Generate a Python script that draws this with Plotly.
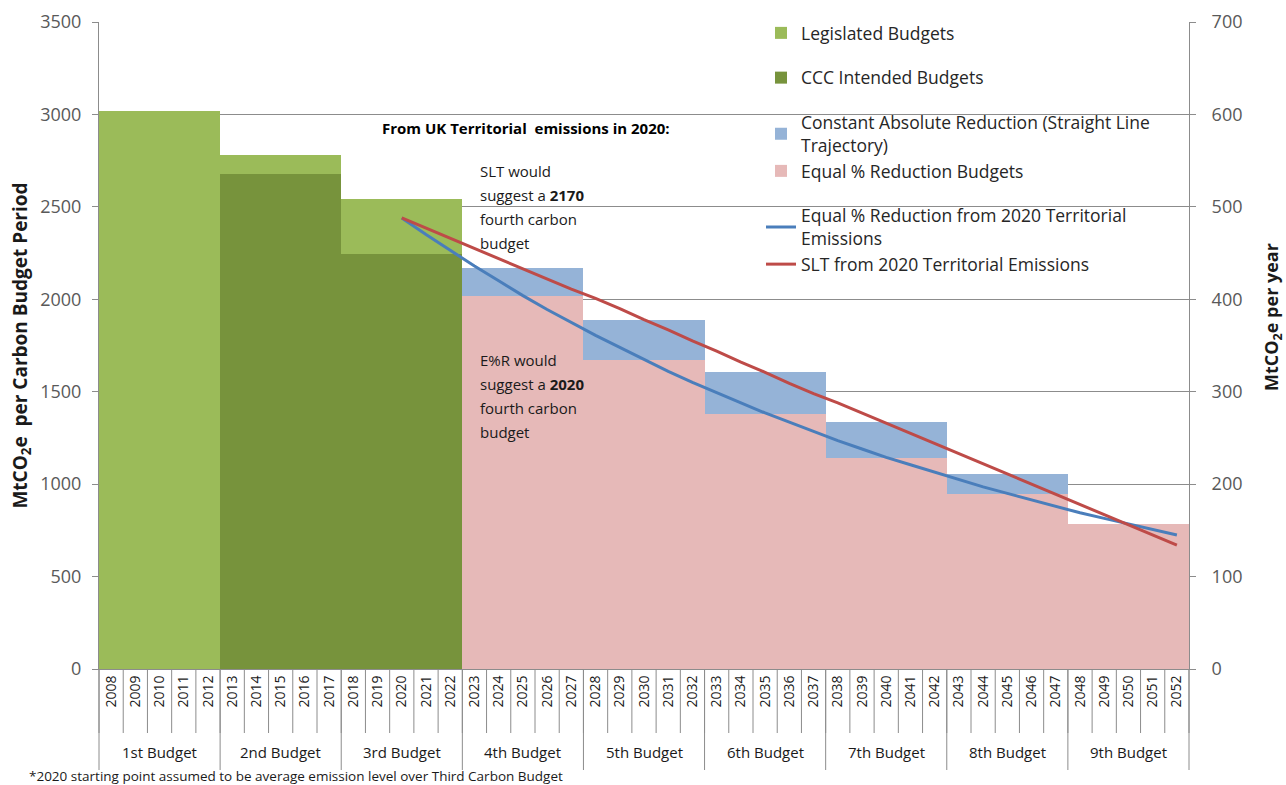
import plotly.graph_objects as go

# ---------------- data ----------------
year_labels = ["2008", "2009", "2010", "2011", "2012", "2013", "2014", "2015", "2016", "2017",
               "2018", "2019", "2020", "2021", "2022", "2023", "2024", "2025", "2026", "2027",
               "2028", "2029", "2030", "2031", "2032", "2033", "2034", "2035", "2036", "2037",
               "2038", "2039", "2040", "2041", "2042", "2043", "2044", "2045", "2046", "2047",
               "2048", "2049", "2050", "2051", "2052"]
budget_labels = ["1st Budget", "2nd Budget", "3rd Budget", "4th Budget", "5th Budget",
                 "6th Budget", "7th Budget", "8th Budget", "9th Budget"]

# budget values (MtCO2e per 5-year carbon budget period), left axis
legislated_budgets = [3018, 2782, 2544]                 # budgets 1-3
ccc_intended_budgets = [2678, 2245]                     # budgets 2-3
constant_abs_budgets = [2170, 1888, 1608, 1336, 1055]   # budgets 4-8
equal_pct_budgets = [2020, 1672, 1382, 1143, 948, 782]  # budgets 4-9

# annual trajectories (MtCO2e per year), right axis, years 2020-2052
line_years = year_labels[12:]
equal_pct_line = [488, 470, 453, 436, 420, 404, 389, 375, 361, 348, 335, 322, 310, 299, 288, 277,
                  267, 257, 247, 238, 229, 221, 213, 205, 197, 190, 183, 176, 169, 163, 157, 151, 145]
slt_line = [488, 477, 466, 455, 444, 433, 422, 411, 401, 390, 378, 367, 355, 344, 332, 321,
            309, 298, 288, 277, 266, 255, 244, 233, 222, 211, 200, 189, 178, 167, 156, 145, 134]


# ---------------- helpers ----------------
def expand(values, first_budget):
    xs, ys = [], []
    for k, v in enumerate(values):
        b = first_budget + k
        for j in range(5):
            xs.append(year_labels[b * 5 + j])
            ys.append(v)
    return xs, ys


GREEN_L = "#9BBB59"
GREEN_D = "#77933C"
BLUE_B = "#95B3D7"
PINK = "#E6B9B8"
BLUE_L = "#4A7EBB"
RED_L = "#BE4B48"
GRID = "#8C8C8C"
FONT = "Open Sans"
TXT = "#1a1a1a"

fig = go.Figure()

x, y = expand(legislated_budgets, 0)
fig.add_trace(go.Bar(x=x, y=y, name="Legislated Budgets", marker=dict(color=GREEN_L, line_width=0),
                     legendgroup="g1"))
x, y = expand(ccc_intended_budgets, 1)
fig.add_trace(go.Bar(x=x, y=y, name="CCC Intended Budgets", marker=dict(color=GREEN_D, line_width=0),
                     legendgroup="g2"))
x, y = expand(constant_abs_budgets, 3)
fig.add_trace(go.Bar(x=x, y=y, name="Constant Absolute Reduction (Straight Line<br>Trajectory)",
                     marker=dict(color=BLUE_B, line_width=0), legendgroup="g3"))
x, y = expand(equal_pct_budgets, 3)
fig.add_trace(go.Bar(x=x, y=y, name="Equal % Reduction Budgets", marker=dict(color=PINK, line_width=0),
                     legendgroup="g3"))

fig.add_trace(go.Scatter(x=line_years, y=equal_pct_line, yaxis="y2", mode="lines",
                         name="Equal % Reduction from 2020 Territorial<br>Emissions",
                         line=dict(color=BLUE_L, width=3), legendgroup="g4"))
fig.add_trace(go.Scatter(x=line_years, y=slt_line, yaxis="y2", mode="lines",
                         name="SLT from 2020 Territorial Emissions",
                         line=dict(color=RED_L, width=3), legendgroup="g4"))

# plot area (pixels): left 99, right 1189, top 22, bottom 669
FIG_W = 1286
FIG_H = 785
PH = 647.0
PW = 1090.0


def px_y(py):
    return (669 - py) / PH


def px_x(pxv):
    return (pxv - 99) / PW


shapes = []
for k in range(46):
    shapes.append(dict(type="line", xref="paper", yref="paper", x0=k / 45, x1=k / 45,
                       y0=0, y1=px_y(733), line=dict(color=GRID, width=1)))
for k in range(0, 46, 5):
    shapes.append(dict(type="line", xref="paper", yref="paper", x0=k / 45, x1=k / 45,
                       y0=0, y1=px_y(770), line=dict(color=GRID, width=1)))

annotations = [
    dict(text="<b>From UK Territorial  emissions in 2020:</b>", x=px_x(380), y=px_y(128),
         xref="paper", yref="paper", xanchor="left", yanchor="middle",
         font=dict(size=15, color="#000000")),
]
slt_lines = ["SLT would", "suggest a <b>2170</b>", "fourth carbon", "budget"]
for i, t in enumerate(slt_lines):
    annotations.append(dict(text=t, x=px_x(478), y=px_y(171 + 24 * i), xref="paper", yref="paper",
                            xanchor="left", yanchor="middle", font=dict(size=15, color=TXT)))
esr_lines = ["E%R would", "suggest a <b>2020</b>", "fourth carbon", "budget"]
for i, t in enumerate(esr_lines):
    annotations.append(dict(text=t, x=px_x(478), y=px_y(360 + 24 * i), xref="paper", yref="paper",
                            xanchor="left", yanchor="middle", font=dict(size=15, color=TXT)))
for b, name in enumerate(budget_labels):
    # category axis: x given as the serial index of the middle year of the budget
    annotations.append(dict(text=name, x=5 * b + 2, xref="x", y=px_y(752), yref="paper",
                            xanchor="center", yanchor="middle", font=dict(size=15, color=TXT)))
annotations.append(dict(text="<b>MtCO<sub>2</sub>e per year</b>", x=px_x(1272), y=px_y(317),
                        xref="paper", yref="paper", textangle=-90, xanchor="center",
                        yanchor="middle", font=dict(size=18, color=TXT)))
annotations.append(dict(text="*2020 starting point assumed to be average emission level over Third Carbon Budget",
                        x=px_x(27), y=px_y(776), xref="paper", yref="paper", xanchor="left",
                        yanchor="middle", font=dict(size=13.5, color=TXT)))
for a in annotations:
    a["showarrow"] = False

fig.update_layout(
    width=FIG_W, height=FIG_H,
    margin=dict(l=99, r=FIG_W - 1189, t=22, b=FIG_H - 669, autoexpand=False),
    paper_bgcolor="white", plot_bgcolor="white",
    barmode="overlay", bargap=0,
    font=dict(family=FONT, color="#262626"),
    showlegend=True,
    legend=dict(xref="container", yref="container", x=761 / FIG_W, y=1 - 15 / FIG_H,
                xanchor="left", yanchor="top",
                bgcolor="rgba(0,0,0,0)", font=dict(size=17.5, color="#262626"),
                traceorder="grouped", tracegroupgap=19, itemwidth=30),
    xaxis=dict(type="category", categoryorder="array", categoryarray=year_labels,
               tickangle=-90, tickfont=dict(size=14, color=TXT), showline=True,
               linecolor=GRID, range=[-0.5, 44.5], showgrid=False, ticks="", automargin=False),
    yaxis=dict(range=[0, 3500], dtick=500, gridcolor=GRID, gridwidth=1, showline=True,
               linecolor=GRID, ticks="outside", ticklen=6, tickcolor=GRID,
               tickfont=dict(size=18, color="#595959"), zeroline=False, ticklabelstandoff=7,
               automargin=False,
               title=dict(text="<b>MtCO<sub>2</sub>e  per Carbon Budget Period</b>",
                          font=dict(size=19, color=TXT), standoff=7)),
    yaxis2=dict(overlaying="y", side="right", range=[0, 700], dtick=100, showgrid=False,
                showline=True, linecolor=GRID, ticks="outside", ticklen=6, tickcolor=GRID,
                tickfont=dict(size=18, color="#595959"), zeroline=False, ticklabelstandoff=12,
                automargin=False),
    shapes=shapes,
    annotations=annotations,
)

# remove the default page margin so the 1286x785 figure fills the window exactly
fig.write_html("out.html", config={"displayModeBar": False},
               post_script="document.body.style.margin='0px';document.body.style.overflow='hidden';")
